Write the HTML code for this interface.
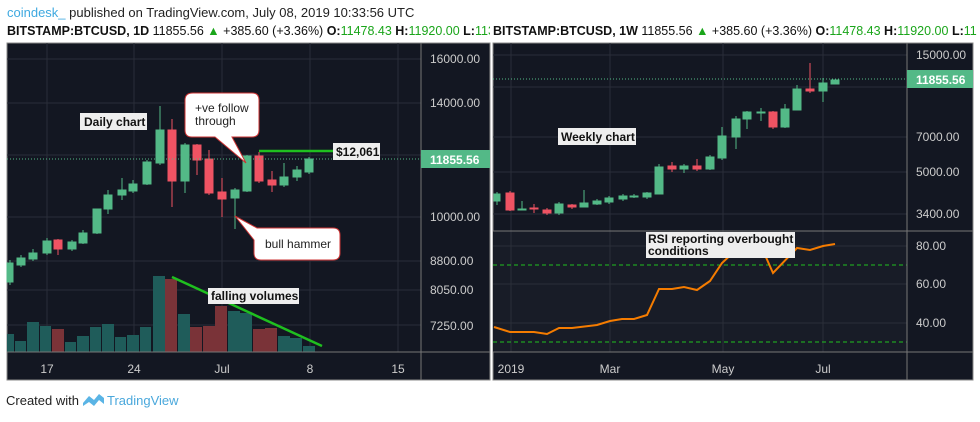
<!DOCTYPE html>
<html><head><meta charset="utf-8"><style>
body{margin:0;background:#fff;width:980px;height:417px;overflow:hidden;font-family:"Liberation Sans",sans-serif}
</style></head><body>
<svg width="980" height="417" xmlns="http://www.w3.org/2000/svg" font-family="Liberation Sans, sans-serif">
<rect width="980" height="417" fill="#fff"/>
<text x="7" y="17" font-size="13"><tspan fill="#3fa9e0">coindesk_</tspan><tspan fill="#222"> published on TradingView.com, July 08, 2019 10:33:56 UTC</tspan></text>
<text x="7" y="35" font-size="12.5" font-weight="bold" fill="#111">BITSTAMP:BTCUSD, 1D <tspan font-weight="normal">11855.56 </tspan><tspan fill="#1aa51a">▲</tspan><tspan font-weight="normal"> +385.60 (+3.36%) </tspan>O:<tspan fill="#1aa51a" font-weight="normal">11478.43 </tspan>H:<tspan fill="#1aa51a" font-weight="normal">11920.00 </tspan>L:<tspan fill="#1aa51a" font-weight="normal">11358.00</tspan></text>
<rect x="490" y="20" width="490" height="20" fill="#fff"/>
<text x="493" y="35" font-size="12.5" font-weight="bold" fill="#111">BITSTAMP:BTCUSD, 1W <tspan font-weight="normal">11855.56 </tspan><tspan fill="#1aa51a">▲</tspan><tspan font-weight="normal"> +385.60 (+3.36%) </tspan>O:<tspan fill="#1aa51a" font-weight="normal">11478.43 </tspan>H:<tspan fill="#1aa51a" font-weight="normal">11920.00 </tspan>L:<tspan fill="#1aa51a" font-weight="normal">11</tspan></text>

<!-- LEFT PANEL -->
<rect x="7" y="43" width="483" height="337" fill="#131722" stroke="#888" stroke-width="1"/>
<g stroke="#2a2e39" stroke-width="1">
<line x1="47" y1="43" x2="47" y2="352"/><line x1="134" y1="43" x2="134" y2="352"/><line x1="222" y1="43" x2="222" y2="352"/><line x1="310" y1="43" x2="310" y2="352"/><line x1="398" y1="43" x2="398" y2="352"/>
<line x1="7" y1="59" x2="421" y2="59"/><line x1="7" y1="103" x2="421" y2="103"/><line x1="7" y1="155" x2="421" y2="155"/><line x1="7" y1="217" x2="421" y2="217"/><line x1="7" y1="261" x2="421" y2="261"/><line x1="7" y1="290" x2="421" y2="290"/><line x1="7" y1="325" x2="421" y2="325"/>
</g>
<!-- volumes -->
<g>
<rect x="7" y="334" width="7" height="18" fill="#1f5c5a"/>
<rect x="15" y="341" width="11" height="11" fill="#1f5c5a"/>
<rect x="27" y="322" width="12" height="30" fill="#1f5c5a"/>
<rect x="40" y="326" width="11" height="26" fill="#1f5c5a"/>
<rect x="52" y="329" width="12" height="23" fill="#7a3338"/>
<rect x="65" y="342" width="11" height="10" fill="#1f5c5a"/>
<rect x="77" y="336" width="12" height="16" fill="#1f5c5a"/>
<rect x="90" y="327" width="11" height="25" fill="#1f5c5a"/>
<rect x="102" y="324" width="12" height="28" fill="#1f5c5a"/>
<rect x="115" y="337" width="11" height="15" fill="#1f5c5a"/>
<rect x="127" y="335" width="12" height="17" fill="#1f5c5a"/>
<rect x="140" y="327" width="11" height="25" fill="#1f5c5a"/>
<rect x="153" y="276" width="12" height="76" fill="#1f5c5a"/>
<rect x="165" y="279" width="12" height="73" fill="#7a3338"/>
<rect x="178" y="314" width="12" height="38" fill="#1f5c5a"/>
<rect x="190" y="327" width="12" height="25" fill="#7a3338"/>
<rect x="203" y="326" width="12" height="26" fill="#7a3338"/>
<rect x="215" y="306" width="12" height="46" fill="#7a3338"/>
<rect x="228" y="311" width="12" height="41" fill="#1f5c5a"/>
<rect x="240" y="313" width="12" height="39" fill="#1f5c5a"/>
<rect x="253" y="329" width="12" height="23" fill="#7a3338"/>
<rect x="265" y="328" width="12" height="24" fill="#7a3338"/>
<rect x="278" y="336" width="12" height="16" fill="#1f5c5a"/>
<rect x="290" y="338" width="12" height="14" fill="#1f5c5a"/>
<rect x="303" y="346" width="12" height="6" fill="#1f5c5a"/>
</g>
<!-- candles -->
<g stroke-width="1">
<g fill="#53b987" stroke="#53b987">
<line x1="10" y1="260" x2="10" y2="285"/><rect x="7" y="263" width="6" height="19"/>
<line x1="21" y1="255" x2="21" y2="267"/><rect x="17" y="258" width="8" height="7"/>
<line x1="33" y1="249" x2="33" y2="261"/><rect x="29" y="253" width="8" height="6"/>
<line x1="47" y1="238" x2="47" y2="255"/><rect x="43" y="241" width="8" height="12"/>
<line x1="72" y1="240" x2="72" y2="251"/><rect x="68" y="242" width="8" height="7"/>
<line x1="83" y1="230" x2="83" y2="244"/><rect x="79" y="233" width="8" height="10"/>
<line x1="97" y1="209" x2="97" y2="234"/><rect x="93" y="209" width="8" height="24"/>
<line x1="108" y1="190" x2="108" y2="214"/><rect x="104" y="195" width="8" height="14"/>
<line x1="122" y1="178" x2="122" y2="200"/><rect x="118" y="190" width="8" height="5"/>
<line x1="133" y1="180" x2="133" y2="193"/><rect x="129" y="184" width="8" height="7"/>
<line x1="147" y1="160" x2="147" y2="185"/><rect x="143" y="162" width="8" height="22"/>
<line x1="160" y1="106" x2="160" y2="165"/><rect x="156" y="130" width="8" height="33"/>
<line x1="185" y1="143" x2="185" y2="193"/><rect x="181" y="145" width="8" height="36"/>
<line x1="235" y1="188" x2="235" y2="229"/><rect x="231" y="190" width="8" height="8"/>
<line x1="247" y1="155" x2="247" y2="192"/><rect x="243" y="156" width="8" height="35"/>
<line x1="284" y1="163" x2="284" y2="187"/><rect x="280" y="177" width="8" height="8"/>
<line x1="297" y1="166" x2="297" y2="181"/><rect x="293" y="170" width="8" height="7"/>
<line x1="309" y1="157" x2="309" y2="174"/><rect x="305" y="159" width="8" height="13"/>
</g>
<g fill="#ef5363" stroke="#ef5363">
<line x1="58" y1="239" x2="58" y2="255"/><rect x="54" y="240" width="8" height="9"/>
<line x1="172" y1="119" x2="172" y2="207"/><rect x="168" y="130" width="8" height="51"/>
<line x1="197" y1="144" x2="197" y2="175"/><rect x="193" y="145" width="8" height="15"/>
<line x1="209" y1="150" x2="209" y2="195"/><rect x="205" y="159" width="8" height="34"/>
<line x1="222" y1="178" x2="222" y2="217"/><rect x="218" y="192" width="8" height="7"/>
<line x1="259" y1="152" x2="259" y2="183"/><rect x="255" y="156" width="8" height="25"/>
<line x1="272" y1="171" x2="272" y2="192"/><rect x="268" y="180" width="8" height="5"/>
</g>
</g>
<line x1="7" y1="159" x2="421" y2="159" stroke="#53b987" stroke-width="1" stroke-dasharray="1,2"/>
<line x1="259" y1="151" x2="333" y2="151" stroke="#1fbf1f" stroke-width="2.5"/>
<line x1="172" y1="277" x2="322" y2="346" stroke="#1fbf1f" stroke-width="2.5"/>
<rect x="333" y="143" width="47" height="17" fill="#eee"/>
<text x="336" y="156" font-size="12" font-weight="bold" fill="#111">$12,061</text>
<rect x="80" y="113" width="67" height="17" fill="#eee"/>
<text x="84" y="126" font-size="12" font-weight="bold" fill="#111">Daily chart</text>
<rect x="208" y="288" width="91" height="16" fill="#eee"/>
<text x="211" y="300" font-size="12" font-weight="bold" fill="#111">falling volumes</text>
<path d="M193,93 H252 Q259,93 259,100 V130 Q259,137 252,137 H232 L246,163 L215,137 H192 Q185,137 185,130 V100 Q185,93 193,93 Z" fill="#fff" stroke="#c33" stroke-width="1"/>
<text x="195" y="112" font-size="12" fill="#222">+ve follow</text>
<text x="195" y="125" font-size="12" fill="#222">through</text>
<path d="M261,228 H333 Q340,228 340,235 V253 Q340,260 333,260 H261 Q254,260 254,253 V240 L235,216 L257,228 Z" fill="#fff" stroke="#c33" stroke-width="1"/>
<text x="265" y="248" font-size="12" fill="#222">bull hammer</text>
<line x1="421" y1="43" x2="421" y2="380" stroke="#777"/>
<line x1="7" y1="352" x2="490" y2="352" stroke="#777"/>
<g font-size="12" fill="#ccc">
<text x="430" y="63">16000.00</text><text x="430" y="107">14000.00</text><text x="430" y="221">10000.00</text><text x="430" y="265">8800.00</text><text x="430" y="294">8050.00</text><text x="430" y="330">7250.00</text>
<text x="47" y="373" text-anchor="middle">17</text><text x="134" y="373" text-anchor="middle">24</text><text x="222" y="373" text-anchor="middle">Jul</text><text x="310" y="373" text-anchor="middle">8</text><text x="398" y="373" text-anchor="middle">15</text>
</g>
<rect x="421" y="150" width="69" height="18" fill="#53b987"/>
<text x="430" y="164" font-size="12" font-weight="bold" fill="#fff">11855.56</text>

<!-- RIGHT PANEL -->
<rect x="493" y="43" width="480" height="337" fill="#131722" stroke="#888"/>
<rect x="493" y="231" width="414" height="121" fill="#181c27"/>
<g stroke="#2a2e39">
<line x1="511" y1="43" x2="511" y2="352"/><line x1="610" y1="43" x2="610" y2="352"/><line x1="723" y1="43" x2="723" y2="352"/><line x1="823" y1="43" x2="823" y2="352"/>
<line x1="493" y1="55" x2="907" y2="55"/><line x1="493" y1="87" x2="907" y2="87"/><line x1="493" y1="137" x2="907" y2="137"/><line x1="493" y1="172" x2="907" y2="172"/><line x1="493" y1="214" x2="907" y2="214"/>
<line x1="493" y1="246" x2="907" y2="246"/><line x1="493" y1="284" x2="907" y2="284"/><line x1="493" y1="323" x2="907" y2="323"/>
</g>
<g fill="#53b987" stroke="#53b987">
<line x1="497" y1="192" x2="497" y2="205"/><rect x="494" y="194" width="6" height="7"/>
<line x1="522" y1="201" x2="522" y2="210"/><rect x="518" y="209" width="8" height="1"/>
<line x1="559" y1="202" x2="559" y2="215"/><rect x="555" y="204" width="8" height="9"/>
<line x1="584" y1="190" x2="584" y2="207"/><rect x="580" y="203" width="8" height="4"/>
<line x1="597" y1="199" x2="597" y2="205"/><rect x="593" y="201" width="8" height="3"/>
<line x1="609" y1="196" x2="609" y2="204"/><rect x="605" y="198" width="8" height="4"/>
<line x1="623" y1="194" x2="623" y2="201"/><rect x="619" y="196" width="8" height="3"/>
<line x1="634" y1="194" x2="634" y2="198"/><rect x="630" y="196" width="8" height="1"/>
<line x1="647" y1="192" x2="647" y2="199"/><rect x="643" y="193" width="8" height="4"/>
<line x1="659" y1="164" x2="659" y2="194"/><rect x="655" y="167" width="8" height="27"/>
<line x1="684" y1="164" x2="684" y2="173"/><rect x="680" y="166" width="8" height="3"/>
<line x1="710" y1="155" x2="710" y2="170"/><rect x="706" y="157" width="8" height="12"/>
<line x1="722" y1="127" x2="722" y2="160"/><rect x="718" y="136" width="8" height="22"/>
<line x1="736" y1="116" x2="736" y2="149"/><rect x="732" y="119" width="8" height="18"/>
<line x1="747" y1="111" x2="747" y2="129"/><rect x="743" y="112" width="8" height="7"/>
<line x1="761" y1="108" x2="761" y2="121"/><rect x="757" y="112" width="8" height="1"/>
<line x1="785" y1="104" x2="785" y2="128"/><rect x="781" y="109" width="8" height="18"/>
<line x1="797" y1="85" x2="797" y2="110"/><rect x="793" y="89" width="8" height="21"/>
<line x1="823" y1="78" x2="823" y2="102"/><rect x="819" y="83" width="8" height="8"/>
<rect x="831" y="80" width="8" height="4"/>
</g>
<g fill="#ef5363" stroke="#ef5363">
<line x1="510" y1="191" x2="510" y2="211"/><rect x="506" y="193" width="8" height="17"/>
<line x1="534" y1="204" x2="534" y2="213"/><rect x="530" y="208" width="8" height="1"/>
<line x1="547" y1="208" x2="547" y2="215"/><rect x="543" y="210" width="8" height="3"/>
<line x1="572" y1="204" x2="572" y2="209"/><rect x="568" y="205" width="8" height="2"/>
<line x1="672" y1="162" x2="672" y2="172"/><rect x="668" y="166" width="8" height="3"/>
<line x1="697" y1="159" x2="697" y2="171"/><rect x="693" y="166" width="8" height="3"/>
<line x1="773" y1="111" x2="773" y2="129"/><rect x="769" y="112" width="8" height="15"/>
<line x1="810" y1="63" x2="810" y2="93"/><rect x="806" y="89" width="8" height="2"/>
</g>
<line x1="493" y1="79" x2="907" y2="79" stroke="#53b987" stroke-dasharray="1,2"/>
<line x1="493" y1="265" x2="907" y2="265" stroke="#1fbf1f" stroke-dasharray="4,3"/>
<line x1="493" y1="342" x2="907" y2="342" stroke="#1fbf1f" stroke-dasharray="4,3"/>
<polyline points="494,327 510,332 534,332 547,334 559,328 572,328 597,325 610,321 622,319 634,319 647,315 659,289 672,289 684,287 697,290 710,281 722,263 736,250 747,246 761,246 773,273 797,248 810,250 823,246 835,244" fill="none" stroke="#f57c00" stroke-width="2"/>
<rect x="558" y="128" width="78" height="17" fill="#eee"/>
<text x="561" y="141" font-size="12" font-weight="bold" fill="#111">Weekly chart</text>
<rect x="646" y="232" width="149" height="26" fill="#eee"/>
<text x="648" y="243" font-size="12" font-weight="bold" fill="#111">RSI reporting overbought</text>
<text x="648" y="255" font-size="12" font-weight="bold" fill="#111">conditions</text>
<line x1="907" y1="43" x2="907" y2="380" stroke="#777"/>
<line x1="493" y1="231" x2="973" y2="231" stroke="#777"/>
<line x1="493" y1="352" x2="973" y2="352" stroke="#777"/>
<g font-size="12" fill="#ccc">
<text x="916" y="59">15000.00</text><text x="916" y="141">7000.00</text><text x="916" y="176">5000.00</text><text x="916" y="218">3400.00</text>
<text x="916" y="250">80.00</text><text x="916" y="288">60.00</text><text x="916" y="327">40.00</text>
<text x="511" y="373" text-anchor="middle">2019</text><text x="610" y="373" text-anchor="middle">Mar</text><text x="723" y="373" text-anchor="middle">May</text><text x="823" y="373" text-anchor="middle">Jul</text>
</g>
<rect x="907" y="70" width="66" height="18" fill="#53b987"/>
<text x="916" y="84" font-size="12" font-weight="bold" fill="#fff">11855.56</text>

<text x="6" y="405" font-size="13" fill="#222">Created with</text>
<path d="M83,403 L89,396 L94,400 L99,394 L104,398 L104,404 L99,400 L94,406 L89,402 L83,406 Z" fill="#5ab4e5"/>
<text x="107" y="405" font-size="13" fill="#4aa8dc">TradingView</text>
</svg>
</body></html>
